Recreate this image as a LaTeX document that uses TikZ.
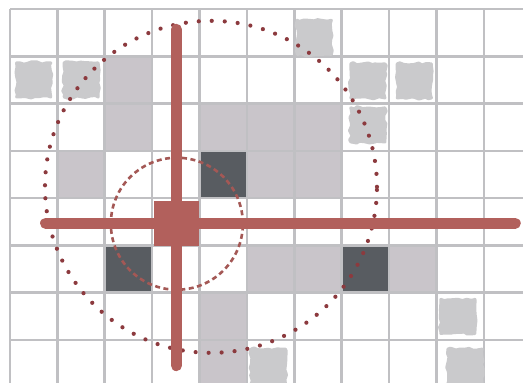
\documentclass[tikz,border=0pt]{standalone}
\usepackage{tikz}
\usetikzlibrary{decorations.pathmorphing}

\definecolor{cellgray}{RGB}{201,197,202}
\definecolor{celldark}{RGB}{88,92,97}
\definecolor{gridgray}{RGB}{192,192,195}
\definecolor{blobgray}{RGB}{202,202,204}
\definecolor{crossred}{RGB}{178,96,92}
\definecolor{ringred}{RGB}{140,58,62}

\pgfmathsetseed{7}

\tikzset{
  light/.style={fill=cellgray},
  dark/.style={fill=celldark},
  gridline/.style={draw=gridgray,line width=2.6pt},
  blob/.style={fill=blobgray,draw=blobgray,line width=3pt,line join=round,
    decorate,decoration={random steps,segment length=4.5pt,amplitude=1.3pt}},
  bar/.style={draw=crossred,line width=11pt,line cap=round},
  hubbox/.style={fill=crossred,minimum size=45pt,inner sep=0pt},
  nearring/.style={draw=crossred!92!black,line width=2.6pt,dash pattern=on 5pt off 3.5pt},
  farring/.style={draw=ringred,line width=4.2pt,line cap=round,dash pattern=on 0pt off 13pt}
}

\begin{document}
\begin{tikzpicture}[x=47.4pt,y=-47.3pt]
        \useasboundingbox[fill=white] (-0.211,-0.190) rectangle (10.823,7.907);

        % shaded cells
        \foreach \c/\r in {2/1,2/2,1/3,4/2,5/2,6/2,5/3,6/3,5/5,6/5,8/5,4/6,4/7}
          \fill[light] (\c,\r) rectangle ++(1,1);
        \foreach \c/\r in {4/3,2/5,7/5}
          \fill[dark] (\c,\r) rectangle ++(1,1);

        % grid
        \foreach \c in {0,...,10}
          \draw[gridline] (\c,0) -- (\c,7.907);
        \foreach \r in {0,...,7}
          \draw[gridline] (0,\r) -- (10.823,\r);

        % blurred cells
        \foreach \bx/\by in {0.5/1.5,1.5/1.5,6.42/0.6,7.55/1.52,8.53/1.52,7.55/2.45,9.45/6.5,9.6/7.55,5.45/7.55}
          \filldraw[blob] (\bx-0.36,\by-0.36) rectangle (\bx+0.36,\by+0.36);

        % rings
        \coordinate (reach) at (4.24,3.76);
        \draw[farring] (reach) circle[radius=166pt];
        \coordinate (core) at (3.52,4.54);
        \draw[nearring] (core) circle[radius=66pt];

        % cross
        \node[hubbox] (hub) at (3.51,4.53) {};
        \coordinate (top) at (3.51,0.43);
        \coordinate (bottom) at (3.51,7.54);
        \coordinate (left) at (0.75,4.53);
        \coordinate (right) at (10.66,4.53);
        \draw[bar] (top) -- (hub) -- (bottom);
        \draw[bar] (left) -- (hub) -- (right);
      \end{tikzpicture}
\end{document}
